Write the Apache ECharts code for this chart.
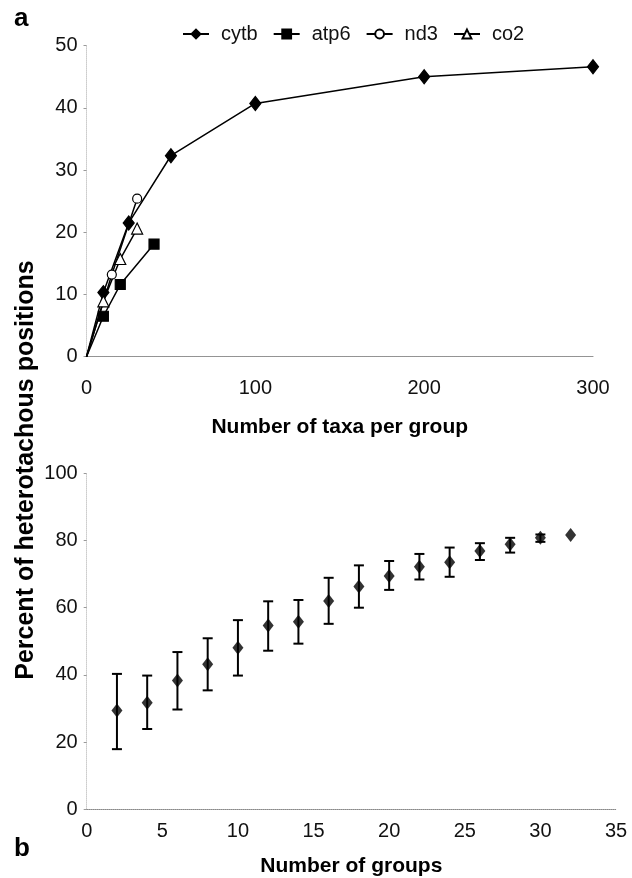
<!DOCTYPE html>
<html>
<head>
<meta charset="utf-8">
<script src="https://cdn.jsdelivr.net/npm/echarts@6/dist/echarts.min.js"></script>
<style>
html, body { margin: 0; padding: 0; background: #fff; }
#chart { width: 632px; height: 878px; }
</style>
</head>
<body>
<div id="chart"></div>
<script>
// panel a: heterotachous positions vs taxa per group
var cytbX = [0, 10, 25, 50, 100, 200, 300];
var cytbY = [0, 10.3, 21.5, 32.3, 40.7, 45.0, 46.6];
var atp6X = [0, 10, 20, 40];
var atp6Y = [0, 6.5, 11.6, 18.1];
var nd3X = [0, 15, 30];
var nd3Y = [0, 13.2, 25.4];
var co2X = [0, 10, 20, 30];
var co2Y = [0, 8.9, 15.7, 20.6];

// panel b: heterotachous positions vs number of groups
var groups = [2, 4, 6, 8, 10, 12, 14, 16, 18, 20, 22, 24, 26, 28, 30, 32];
var meanPct = [29.4, 31.7, 38.3, 43.2, 48.1, 54.7, 55.8, 62.0, 66.3, 69.4, 72.2, 73.5, 76.9, 78.9, 80.8, 81.6];
var lowPct = [17.9, 23.9, 29.7, 35.4, 39.8, 47.2, 49.3, 55.2, 60.0, 65.3, 68.4, 69.2, 74.2, 76.4, 79.6, null];
var highPct = [40.3, 39.8, 46.8, 50.9, 56.3, 61.9, 62.3, 68.9, 72.6, 73.9, 76.0, 77.9, 79.2, 80.8, 81.8, null];

var font = "'Liberation Sans', Arial, sans-serif";

function pts(xs, ys) {
  return xs.map(function (x, i) {
    if (i === 0) return { value: [x, ys[i]], symbol: 'none' };
    return [x, ys[i]];
  });
}

function lineSeries(name, xs, ys, symbol, size, fill) {
  return {
    name: name,
    type: 'line',
    xAxisIndex: 0,
    yAxisIndex: 0,
    data: pts(xs, ys),
    symbol: symbol,
    symbolSize: size,
    showAllSymbol: true,
    lineStyle: { color: '#000', width: 1.5 },
    itemStyle: { color: fill, borderColor: '#000', borderWidth: 1.2 },
    emphasis: { disabled: true },
    z: 3
  };
}

var errData = groups.map(function (g, i) { return [g, lowPct[i], highPct[i]]; })
  .filter(function (d) { return d[1] != null; });

var axisLabel = { fontSize: 20, color: '#111', fontFamily: font };
var dotted = { show: true, lineStyle: { color: '#888', type: 'dotted', width: 1 } };
var faint = { show: true, lineStyle: { color: '#ccc', type: 'dotted', width: 1 } };

var chart = echarts.init(document.getElementById('chart'));
var option = {
  animation: false,
  backgroundColor: '#fff',
  textStyle: { fontFamily: font },
  legend: {
    data: ['cytb', 'atp6', 'nd3', 'co2'],
    left: 177,
    top: 19,
    itemWidth: 26,
    itemHeight: 11,
    itemGap: 15,
    textStyle: { fontSize: 20, color: '#111', fontFamily: font, padding: [0, 0, 0, 7] }
  },
  grid: [
    { left: 86.5, top: 45.6, width: 506.5, height: 311.1 },
    { left: 86.7, top: 473.3, width: 529.3, height: 336 }
  ],
  xAxis: [
    {
      gridIndex: 0, type: 'value', min: 0, max: 300, interval: 100,
      axisLine: dotted, axisTick: { show: false }, splitLine: { show: false },
      axisLabel: Object.assign({ margin: 22 }, axisLabel),
      name: 'Number of taxa per group', nameLocation: 'middle', nameGap: 60,
      nameTextStyle: { fontSize: 21, fontWeight: 'bold', color: '#000', fontFamily: font }
    },
    {
      gridIndex: 1, type: 'value', min: 0, max: 35, interval: 5,
      axisLine: dotted, axisTick: { show: false }, splitLine: { show: false },
      axisLabel: Object.assign({ margin: 12 }, axisLabel),
      name: 'Number of groups', nameLocation: 'middle', nameGap: 46,
      nameTextStyle: { fontSize: 21, fontWeight: 'bold', color: '#000', fontFamily: font }
    }
  ],
  yAxis: [
    {
      gridIndex: 0, type: 'value', min: 0, max: 50, interval: 10,
      axisLine: faint, axisTick: { show: true, length: 3, lineStyle: { color: '#999' } },
      splitLine: { show: false },
      axisLabel: Object.assign({ margin: 9 }, axisLabel)
    },
    {
      gridIndex: 1, type: 'value', min: 0, max: 100, interval: 20,
      axisLine: faint, axisTick: { show: true, length: 3, lineStyle: { color: '#999' } },
      splitLine: { show: false },
      axisLabel: Object.assign({ margin: 9 }, axisLabel)
    }
  ],
  graphic: [
    { type: 'text', left: 14, top: 6, style: { text: 'a', font: 'bold 26px ' + font, fill: '#000' } },
    { type: 'text', left: 14, top: 836, style: { text: 'b', font: 'bold 26px ' + font, fill: '#000' } },
    {
      type: 'text', x: 26, y: 470, rotation: Math.PI / 2,
      style: {
        text: 'Percent of heterotachous positions', font: 'bold 25px ' + font, fill: '#000',
        align: 'center', verticalAlign: 'middle'
      }
    }
  ],
  series: [
    lineSeries('cytb', cytbX, cytbY, 'diamond', [11, 14], '#000'),
    lineSeries('atp6', atp6X, atp6Y, 'rect', 10, '#000'),
    lineSeries('nd3', nd3X, nd3Y, 'circle', 9, '#fff'),
    lineSeries('co2', co2X, co2Y, 'triangle', 11, '#fff'),
    {
      type: 'custom',
      xAxisIndex: 1,
      yAxisIndex: 1,
      data: errData,
      renderItem: function (params, api) {
        var x = api.value(0);
        var lo = api.coord([x, api.value(1)]);
        var hi = api.coord([x, api.value(2)]);
        var w = 5;
        var st = { stroke: '#000', lineWidth: 2 };
        return {
          type: 'group',
          children: [
            { type: 'line', shape: { x1: lo[0], y1: lo[1], x2: hi[0], y2: hi[1] }, style: st },
            { type: 'line', shape: { x1: lo[0] - w, y1: lo[1], x2: lo[0] + w, y2: lo[1] }, style: st },
            { type: 'line', shape: { x1: hi[0] - w, y1: hi[1], x2: hi[0] + w, y2: hi[1] }, style: st }
          ]
        };
      },
      z: 2
    },
    {
      type: 'scatter',
      xAxisIndex: 1,
      yAxisIndex: 1,
      data: groups.map(function (g, i) { return [g, meanPct[i]]; }),
      symbol: 'diamond',
      symbolSize: [11, 14],
      itemStyle: { color: '#000' },
      emphasis: { disabled: true },
      z: 3
    }
  ]
};
chart.setOption(option);
</script>
</body>
</html>
